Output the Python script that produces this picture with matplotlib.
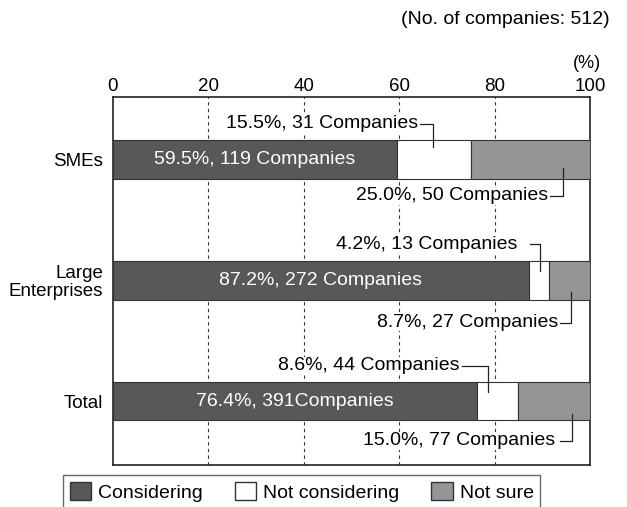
import matplotlib
matplotlib.use("Agg")
import matplotlib.pyplot as plt
from matplotlib.patches import Patch

plt.rcParams['font.family'] = ['Liberation Sans', 'DejaVu Sans']

groups = ["SMEs", "Large\nEnterprises", "Total"]
considering = [59.5, 87.2, 76.4]
not_considering = [15.5, 4.2, 8.6]
not_sure = [25.0, 8.7, 15.0]
label_considering = ["59.5%, 119 Companies", "87.2%, 272 Companies", "76.4%, 391Companies"]
label_not = ["15.5%, 31 Companies", "4.2%, 13 Companies", "8.6%, 44 Companies"]
label_unsure = ["25.0%, 50 Companies", "8.7%, 27 Companies", "15.0%, 77 Companies"]
series_names = ["Considering", "Not considering", "Not sure"]

dark = "#58585a"
light = "#949597"
edge = "#333333"
fs = 14

fig = plt.figure(figsize=(6.27, 5.07), dpi=100)
ax = fig.add_axes([113 / 627, 1 - 465 / 507, 477 / 627, 368 / 507])

y = list(range(len(groups)))
h = 0.32
ax.barh(y, considering, height=h, color=dark, edgecolor=edge, linewidth=0.8, zorder=3)
ax.barh(y, not_considering, left=considering, height=h, color="white",
        edgecolor=edge, linewidth=0.8, zorder=3)
left3 = [a + b for a, b in zip(considering, not_considering)]
ax.barh(y, not_sure, left=left3, height=h, color=light, edgecolor=edge, linewidth=0.8, zorder=3)

ax.set_xlim(0, 100)
ax.set_ylim(2.53, -0.518)
ax.xaxis.tick_top()
ax.set_xticks([0, 20, 40, 60, 80, 100])
ax.tick_params(axis="x", length=0, pad=1.5, labelsize=13.5)
ax.set_yticks(y)
ax.set_yticklabels(groups, fontsize=fs - 0.5, linespacing=1.05)
ax.tick_params(axis="y", length=0, pad=7)
for s in ax.spines.values():
    s.set_linewidth(1.2)
    s.set_color("#222222")
for xv in [20, 40, 60, 80]:
    ax.axvline(xv, color="#333333", lw=0.8, ls=(0, (3, 3)), zorder=1)

# labels inside the dark bars
for i in y:
    ax.text(considering[i] / 2, i, label_considering[i], color="white", fontsize=fs,
            ha="center", va="center", zorder=4)

# leader lines for the small segments
not_line_x = [67.1, 89.5, 78.6]
not_line_start = [64.4, 87.4, 73.2]
not_text_x = [63.9, 84.7, 72.7]
not_text_dy = [-0.295, -0.30, -0.29]
not_end_dy = [-0.10, -0.08, -0.075]
uns_line_x = [94.3, 96.0, 96.2]
uns_line_start = [91.6, 93.7, 93.7]
uns_text_x = [91.2, 93.3, 92.7]
uns_text_dy = [0.30, 0.35, 0.33]
uns_end_dy = [0.07, 0.10, 0.11]
for i in y:
    ty = i + not_text_dy[i]
    ax.text(not_text_x[i], ty, label_not[i], fontsize=fs, ha="right", va="center", zorder=4,
            bbox=dict(facecolor="white", edgecolor="none", pad=0.3))
    ax.plot([not_line_start[i], not_line_x[i], not_line_x[i]], [ty, ty, i + not_end_dy[i]],
            color="#222222", lw=0.9, zorder=5)
    ty = i + uns_text_dy[i]
    ax.text(uns_text_x[i], ty, label_unsure[i], fontsize=fs, ha="right", va="center", zorder=4,
            bbox=dict(facecolor="white", edgecolor="none", pad=0.3))
    ax.plot([uns_line_start[i], uns_line_x[i], uns_line_x[i]], [ty, ty, i + uns_end_dy[i]],
            color="#222222", lw=0.9, zorder=5)

fig.text(610 / 627, 1 - 20 / 507, "(No. of companies: 512)", fontsize=fs,
         ha="right", va="center")
fig.text(601 / 627, 1 - 63 / 507, "(%)", fontsize=13, ha="right", va="center")

handles = [Patch(facecolor=c, edgecolor=edge, linewidth=1.0) for c in [dark, "white", light]]
leg = fig.legend(handles, series_names, loc="upper left",
                 bbox_to_anchor=(63 / 627, 1 - 475 / 507), ncol=3, fontsize=fs,
                 frameon=True, fancybox=False, edgecolor="#444444", handlelength=1.1,
                 handleheight=1.1, handletextpad=0.35, columnspacing=1.65,
                 borderpad=0.35, borderaxespad=0)
leg.get_frame().set_linewidth(1.0)

fig.savefig("out.png", dpi=100)
